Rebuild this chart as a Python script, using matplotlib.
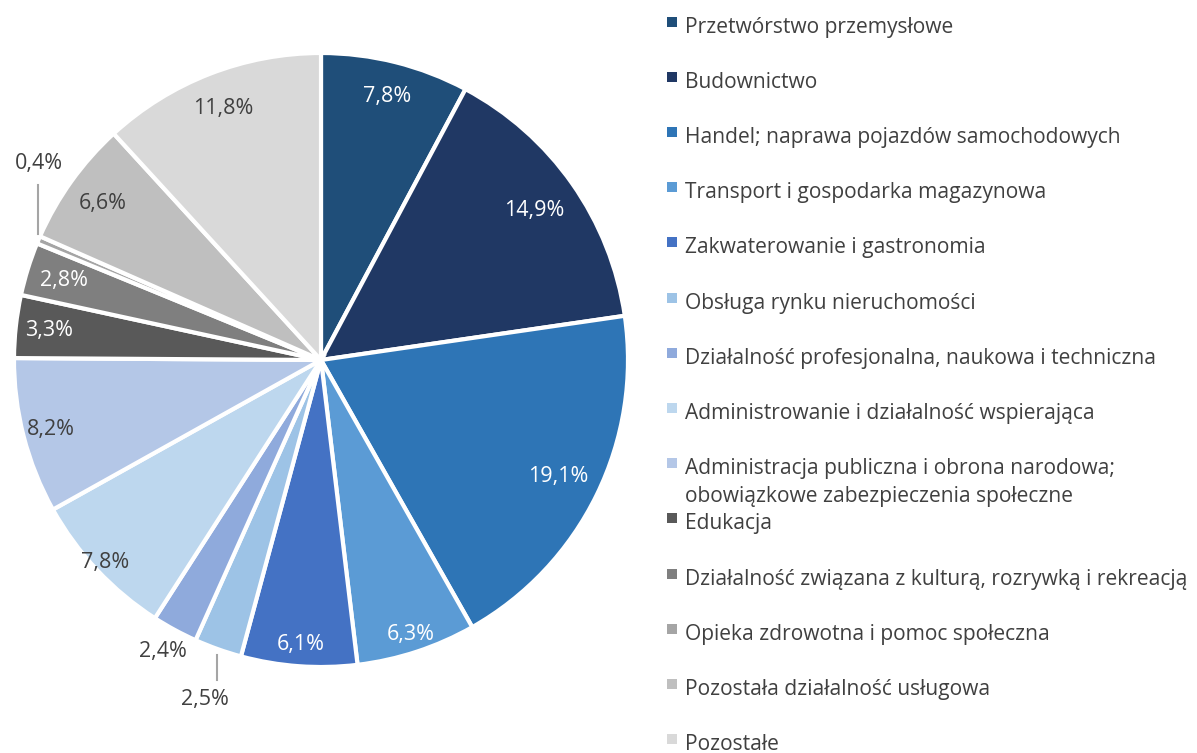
import numpy as np
import matplotlib
matplotlib.use("Agg")
import matplotlib.pyplot as plt
from matplotlib.patches import Rectangle

# data
sectors = [
    "Przetwórstwo przemysłowe",
    "Budownictwo",
    "Handel; naprawa pojazdów samochodowych",
    "Transport i gospodarka magazynowa",
    "Zakwaterowanie i gastronomia",
    "Obsługa rynku nieruchomości",
    "Działalność profesjonalna, naukowa i techniczna",
    "Administrowanie i działalność wspierająca",
    "Administracja publiczna i obrona narodowa;\nobowiązkowe zabezpieczenia społeczne",
    "Edukacja",
    "Działalność związana z kulturą, rozrywką i rekreacją",
    "Opieka zdrowotna i pomoc społeczna",
    "Pozostała działalność usługowa",
    "Pozostałe",
]
shares = [7.8, 14.9, 19.1, 6.3, 6.1, 2.5, 2.4, 7.8, 8.2, 3.3, 2.8, 0.4, 6.6, 11.8]

colors = [
    "#1F4E79", "#203864", "#2E75B6", "#5B9BD5", "#4472C4", "#9DC3E6",
    "#8FAADC", "#BDD7EE", "#B4C7E7", "#595959", "#7F7F7F", "#A5A5A5",
    "#BFBFBF", "#D9D9D9",
]
# label colour: white on dark slices, dark grey on light ones
label_white = [True, True, True, True, True, False, False, False, False,
               True, True, False, False, False]
# radial position of each percentage label (fraction of radius), None = outside
label_r = [0.886, 0.847, 0.86, 0.94, 0.93, None, None, 0.965, 0.91,
           0.89, 0.876, None, 0.873, 0.88]

W, H = 1197, 753
TXT = "#404040"
FONT = "Open Sans"
FS = 15.5      # percentage labels
FS_LEG = 15.1  # legend
plt.rcParams["font.family"] = [FONT, "DejaVu Sans"]

fig = plt.figure(figsize=(W / 100, H / 100), dpi=100)

# pie: centre (321, 360) px, radius 307 px
cx, cy, R = 321, 360, 307
ax = fig.add_axes([(cx - R) / W, (H - cy - R) / H, 2 * R / W, 2 * R / H])
wedges, _ = ax.pie(shares, colors=colors, startangle=90, counterclock=False,
                   radius=1.0, wedgeprops=dict(edgecolor="white", linewidth=3))
ax.set_xlim(-1, 1)
ax.set_ylim(-1, 1)
ax.axis("off")


def fmt(v):
    return f"{v:.1f}".replace(".", ",") + "%"


for i, w in enumerate(wedges):
    mid = np.deg2rad((w.theta1 + w.theta2) / 2)
    c, s = np.cos(mid), np.sin(mid)
    col = "white" if label_white[i] else TXT
    if label_r[i] is not None:
        ax.text(label_r[i] * c, label_r[i] * s, fmt(shares[i]), color=col,
                fontsize=FS, ha="center", va="center")
        continue
    ex, ey = c, s
    if shares[i] < 1:
        # small slice on the left: leader line going up
        ax.plot([ex, ex], [ey + 0.02, ey + 0.18], color="#A5A5A5", lw=1.5,
                clip_on=False)
        ax.text(ex, ey + 0.215, fmt(shares[i]), color=TXT, fontsize=FS,
                ha="center", va="bottom", clip_on=False)
    elif i == 5:
        # leader line going down
        ax.plot([ex * 1.01, ex * 1.01], [ey - 0.02, ey - 0.10], color="#A5A5A5",
                lw=1.5, clip_on=False)
        ax.text(ex * 1.01 - 0.04, ey - 0.13, fmt(shares[i]), color=TXT,
                fontsize=FS, ha="center", va="top", clip_on=False)
    else:
        ax.text(1.08 * c, 1.08 * s, fmt(shares[i]), color=TXT, fontsize=FS,
                ha="center", va="center", clip_on=False)

# legend, one row every 55.2 px
base0, step = 32.5, 55.2
sq_x, sq = 667, 10
text_x = 685
for i, (name, col) in enumerate(zip(sectors, colors)):
    yb = base0 + step * i
    fig.add_artist(Rectangle((sq_x / W, 1 - (yb - 6) / H), sq / W, sq / H,
                             transform=fig.transFigure, facecolor=col,
                             edgecolor="none"))
    for k, line in enumerate(name.split("\n")):
        fig.text(text_x / W, 1 - (yb + 28 * k) / H, line, color=TXT,
                 fontsize=FS_LEG, ha="left", va="baseline")

fig.savefig("out.png", dpi=100)
